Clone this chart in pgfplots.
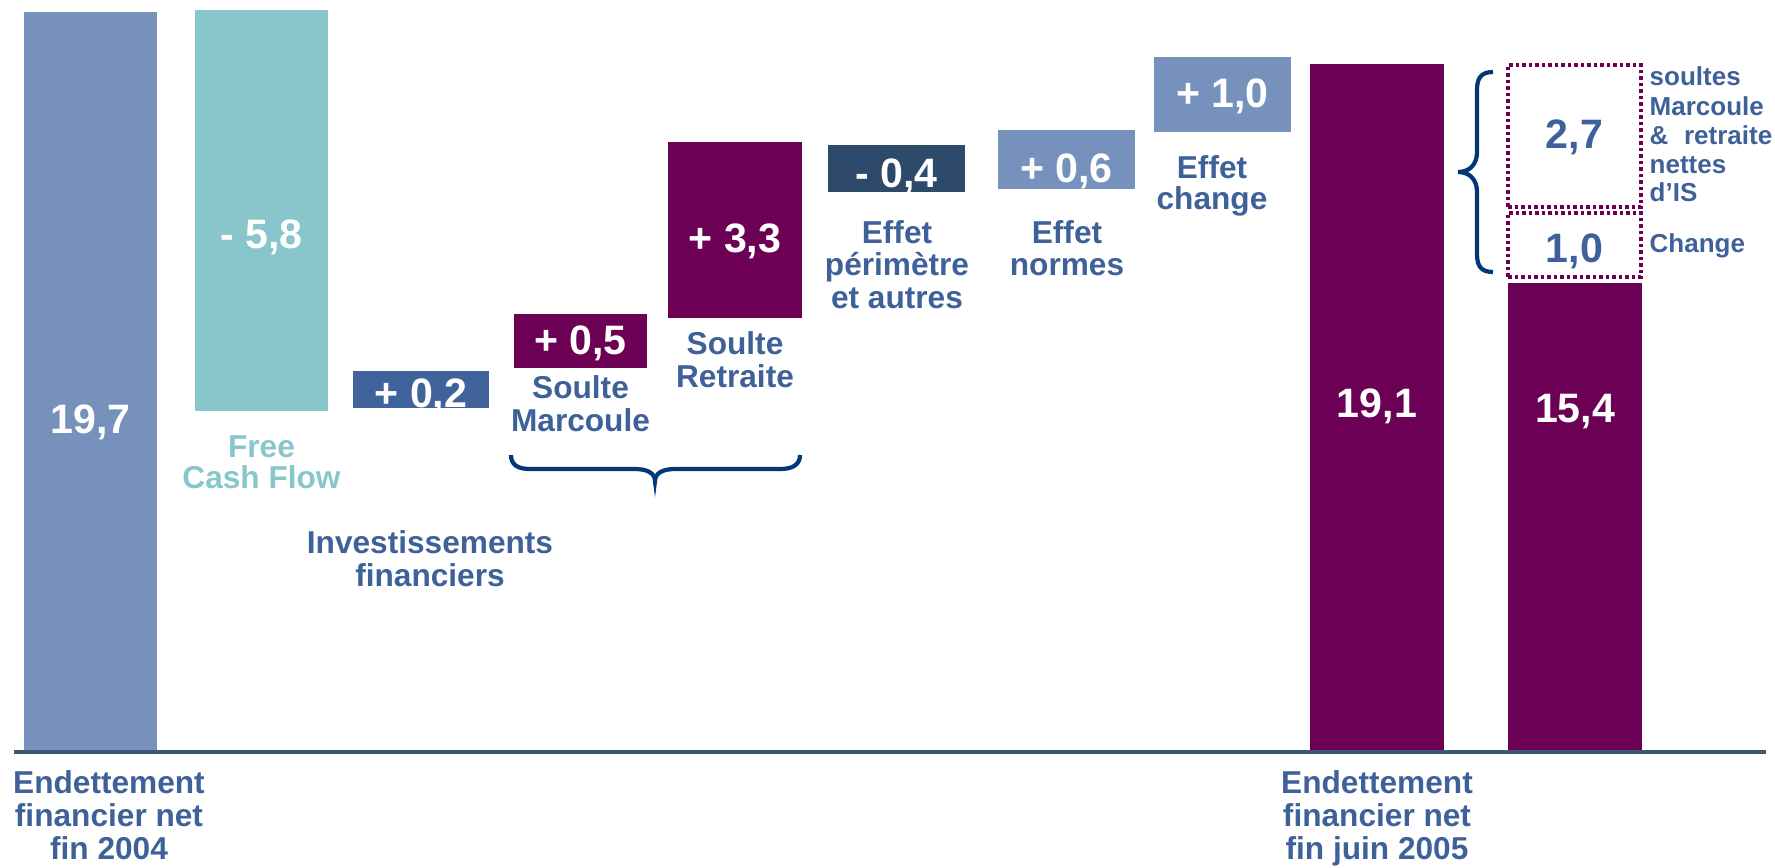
\documentclass[border=0pt]{standalone}
\usepackage{fontspec}
\setmainfont{Liberation Sans}
\usepackage{pgfplots}
\pgfplotsset{compat=1.18}
\definecolor{steel}{RGB}{118,146,188}
\definecolor{tealc}{RGB}{136,198,204}
\definecolor{midblue}{RGB}{65,99,155}
\definecolor{purp}{RGB}{108,0,84}
\definecolor{slate}{RGB}{46,74,107}
\definecolor{tblue}{RGB}{63,97,153}
\definecolor{navy}{RGB}{0,56,120}
\definecolor{baseln}{RGB}{60,86,117}
\newcommand{\vlab}{\fontsize{11.7}{12}\selectfont\bfseries}
\newcommand{\clab}{\fontsize{9}{9.4}\selectfont\bfseries}
\newcommand{\slab}{\fontsize{7.4}{8}\selectfont\bfseries}
\newcommand{\fbar}[5]{\addplot[fill=#1,draw=none] coordinates {(#2,#4) (#3,#4) (#3,#5) (#2,#5)} --cycle;}
\begin{document}
\begin{tikzpicture}
\begin{axis}[
  scale only axis, width=17.75cm, height=8.67cm,
  xmin=0, xmax=1775, ymin=-115, ymax=752,
  hide axis, clip=false,
]
% bars: colour, x-left, x-right, bottom, top (visual heights above the base line)
\fbar{steel}{24}{157}{0}{740}
\fbar{tealc}{195}{328}{341}{742}
\fbar{midblue}{353}{489}{344}{381}
\fbar{purp}{514}{647}{384}{438}
\fbar{purp}{668}{802}{434}{610}
\fbar{slate}{828}{965}{560}{607}
\fbar{steel}{998}{1135}{563}{622}
\fbar{steel}{1154}{1291}{620}{695}
\fbar{purp}{1310}{1444}{0}{688}
\fbar{purp}{1508}{1642}{0}{469}
% dotted boxes
\addplot[draw=purp, line width=1.3pt, dash pattern=on 1.0pt off 0.85pt] coordinates {(1508,545) (1641,545) (1641,687) (1508,687)} --cycle;
\addplot[draw=purp, line width=1.3pt, dash pattern=on 1.0pt off 0.85pt] coordinates {(1508,475) (1641,475) (1641,539) (1508,539)} --cycle;
% base line
\draw[baseln, line width=0.9pt] (axis cs:14,0) -- (axis cs:1766,0);
% braces
\draw[navy, line width=1.2pt] (axis cs:511,297) .. controls (axis cs:511,287) and (axis cs:518,283) .. (axis cs:530,283) -- (axis cs:635,283) .. controls (axis cs:647,283) and (axis cs:655,279) .. (axis cs:655,271) .. controls (axis cs:655,279) and (axis cs:663,283) .. (axis cs:675,283) -- (axis cs:780,283) .. controls (axis cs:792,283) and (axis cs:800,287) .. (axis cs:800,297);
\draw[navy, line width=1.2pt] (axis cs:1493,680) .. controls (axis cs:1481,680) and (axis cs:1477,674) .. (axis cs:1477,662) -- (axis cs:1477,600) .. controls (axis cs:1477,588) and (axis cs:1470,580) .. (axis cs:1458,580) .. controls (axis cs:1470,580) and (axis cs:1477,572) .. (axis cs:1477,560) -- (axis cs:1477,498) .. controls (axis cs:1477,486) and (axis cs:1481,480) .. (axis cs:1493,480);
% value labels
\begin{scope}[every node/.style={anchor=base, inner sep=0pt, text=white}]
\node at (axis cs:90.5,319) {\vlab 19,7};
\node at (axis cs:261.5,504) {\vlab - 5,8};
\node at (axis cs:421,345) {\vlab + 0,2};
\node at (axis cs:580.5,398) {\vlab + 0,5};
\node at (axis cs:735,500) {\vlab + 3,3};
\node at (axis cs:896.5,565) {\vlab - 0,4};
\node at (axis cs:1066.5,570) {\vlab + 0,6};
\node at (axis cs:1222.5,645) {\vlab + 1,0};
\node at (axis cs:1377,335) {\vlab 19,1};
\node at (axis cs:1575,330) {\vlab 15,4};
\node[text=tblue] at (axis cs:1574.5,604) {\vlab 2,7};
\node[text=tblue] at (axis cs:1574.5,490) {\vlab 1,0};
\end{scope}
% category labels
\begin{scope}[every node/.style={anchor=base, inner sep=0pt, text=tblue}]
\node[text=tealc] at (axis cs:261.5,295) {\clab Free};
\node[text=tealc] at (axis cs:261.5,264) {\clab Cash Flow};
\node at (axis cs:430,199) {\clab Investissements};
\node at (axis cs:430,166) {\clab financiers};
\node at (axis cs:580.5,354) {\clab Soulte};
\node at (axis cs:580.5,321) {\clab Marcoule};
\node at (axis cs:735,398) {\clab Soulte};
\node at (axis cs:735,365) {\clab Retraite};
\node at (axis cs:897,509) {\clab Effet};
\node at (axis cs:897,477) {\clab périmètre};
\node at (axis cs:897,444) {\clab et autres};
\node at (axis cs:1067,509) {\clab Effet};
\node at (axis cs:1067,477) {\clab normes};
\node at (axis cs:1212,574) {\clab Effet};
\node at (axis cs:1212,543) {\clab change};
\node at (axis cs:109,-41) {\clab Endettement};
\node at (axis cs:109,-74) {\clab financier net};
\node at (axis cs:109,-107) {\clab fin 2004};
\node at (axis cs:1377,-41) {\clab Endettement};
\node at (axis cs:1377,-74) {\clab financier net};
\node at (axis cs:1377,-107) {\clab fin juin 2005};
\end{scope}
\begin{scope}[every node/.style={anchor=base west, inner sep=0pt, text=tblue}]
\node at (axis cs:1649,667) {\slab soultes};
\node at (axis cs:1649,637) {\slab Marcoule};
\node at (axis cs:1649,608) {\slab \&\hspace{0.6em}retraite};
\node at (axis cs:1649,579) {\slab nettes};
\node at (axis cs:1649,551) {\slab d’IS};
\node at (axis cs:1649,500) {\slab Change};
\end{scope}
\end{axis}
\pgfresetboundingbox
\useasboundingbox (current axis.south west) rectangle (current axis.north east);
\end{tikzpicture}
\end{document}
